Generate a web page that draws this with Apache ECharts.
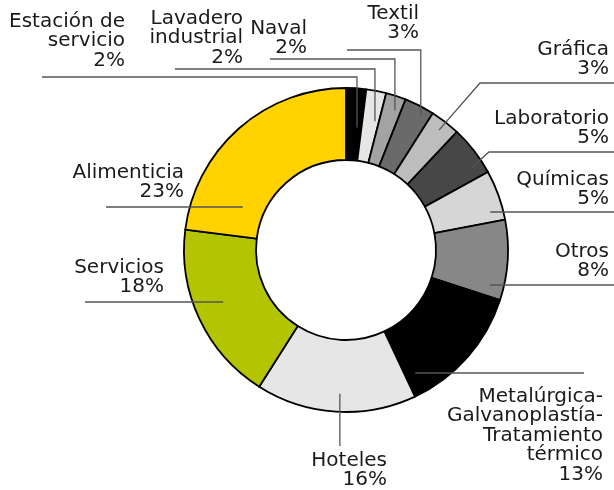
<!DOCTYPE html>
<html>
<head>
<meta charset="utf-8">
<script src="https://cdn.jsdelivr.net/npm/echarts@6/dist/echarts.min.js"></script>
<style>
  html, body { margin: 0; padding: 0; background: #ffffff; }
  #chart { width: 614px; height: 490px; }
</style>
</head>
<body>
<div id="chart"></div>
<script>
// Sectors, clockwise from 12 o'clock
const categories = [
  'Estación de servicio', 'Lavadero industrial', 'Naval', 'Textil', 'Gráfica',
  'Laboratorio', 'Químicas', 'Otros',
  'Metalúrgica-Galvanoplastía-Tratamiento térmico', 'Hoteles', 'Servicios', 'Alimenticia'
];
// Label text with its line breaks
const labelNames = [
  'Estación de\nservicio', 'Lavadero\nindustrial', 'Naval', 'Textil', 'Gráfica',
  'Laboratorio', 'Químicas', 'Otros',
  'Metalúrgica-\nGalvanoplastía-\nTratamiento\ntérmico', 'Hoteles', 'Servicios', 'Alimenticia'
];
// Share of each sector (%)
const shares = [2, 2, 2, 3, 3, 5, 5, 8, 13, 16, 18, 23];

const sliceColors = [
  '#000000', '#e6e6e6', '#a3a3a3', '#6a6a6a', '#bdbdbd', '#474747',
  '#d6d6d6', '#878787', '#000000', '#e6e6e6', '#b3c500', '#ffd200'
];

// Ring geometry (px)
const CX = 346, CY = 250, R_IN = 90, R_OUT = 162;

// Callout placement: anchor = [radius, position within sector 0..1],
// kind: 'v' vertical then horizontal, 'd' diagonal then horizontal, 'h' horizontal only
const callouts = [
  { anchor: [123, 0.71], kind: 'v', lineY: 77,  endX: 42,  tx: 125, ty: 12 },
  { anchor: [132, 0.76], kind: 'v', lineY: 69,  endX: 175, tx: 243, ty: 9 },
  { anchor: [148, 0.68], kind: 'v', lineY: 59,  endX: 270, tx: 307, ty: 19 },
  { anchor: [154, 0.69], kind: 'v', lineY: 50,  endX: 347, tx: 419, ty: 4 },
  { anchor: [152, 0.50], kind: 'd', lineY: 83,  bendX: 480, endX: 614, tx: 609, ty: 40 },
  { anchor: [150, 0.75], kind: 'd', lineY: 152, bendX: 489, endX: 614, tx: 609, ty: 109 },
  { anchor: [149, 0.78], kind: 'h', lineY: 212, endX: 614, tx: 609, ty: 170 },
  { anchor: [148, 0.85], kind: 'h', lineY: 285, endX: 614, tx: 609, ty: 242 },
  { anchor: [141, 0.91], kind: 'h', lineY: 373, endX: 584, tx: 603, ty: 387 },
  { anchor: [144, 0.48], kind: 'v', lineY: 446, endX: null, tx: 387, ty: 451 },
  { anchor: [133, 0.54], kind: 'h', lineY: 302, endX: 85,  tx: 164, ty: 258 },
  { anchor: [112, 0.19], kind: 'h', lineY: 207, endX: 106, tx: 184, ty: 163 }
];

const total = shares.reduce((a, b) => a + b, 0);
const cumBefore = shares.map((_, i) => shares.slice(0, i).reduce((a, b) => a + b, 0));

// Point inside sector i at the given radius and fractional position
function sectorPoint(i, r, frac) {
  const theta = (cumBefore[i] + frac * shares[i]) / total * 2 * Math.PI;
  return [CX + r * Math.sin(theta), CY - r * Math.cos(theta)];
}

const chart = echarts.init(document.getElementById('chart'), null, { renderer: 'canvas' });

const ring = {
  type: 'pie',
  center: [CX, CY],
  radius: [R_IN, R_OUT],
  startAngle: 90,
  clockwise: true,
  avoidLabelOverlap: false,
  silent: true
};

chart.setOption({
  backgroundColor: '#ffffff',
  animation: false,
  series: [
    // coloured ring
    Object.assign({}, ring, {
      z: 1,
      itemStyle: { borderColor: '#000000', borderWidth: 1.8 },
      label: { show: false },
      labelLine: { show: false },
      data: shares.map((v, i) => ({
        name: categories[i],
        value: v,
        itemStyle: { color: sliceColors[i] }
      }))
    }),
    // callouts drawn above the ring
    Object.assign({}, ring, {
      z: 5,
      itemStyle: { color: 'rgba(0,0,0,0)', borderWidth: 0 },
      label: {
        show: true,
        position: 'outside',
        color: '#1a1a1a',
        fontFamily: 'DejaVu Sans',
        fontSize: 20,
        lineHeight: 19.5,
        align: 'right',
        formatter: p => labelNames[p.dataIndex] + '\n' + p.value + '%'
      },
      labelLine: {
        show: true,
        smooth: false,
        lineStyle: { color: '#555555', width: 1.3 }
      },
      labelLayout: function (params) {
        const i = params.dataIndex;
        const c = callouts[i];
        const a = sectorPoint(i, c.anchor[0], c.anchor[1]);
        let pts;
        if (c.kind === 'v') {
          pts = [a, [a[0], c.lineY]];
          if (c.endX != null) pts.push([c.endX, c.lineY]);
        } else if (c.kind === 'd') {
          pts = [a, [c.bendX, c.lineY], [c.endX, c.lineY]];
        } else {
          pts = [[a[0], c.lineY], [c.endX, c.lineY]];
        }
        return {
          x: c.tx,
          y: c.ty,
          align: 'right',
          verticalAlign: 'top',
          labelLinePoints: pts
        };
      },
      data: shares.map((v, i) => ({ name: categories[i], value: v }))
    })
  ]
});
</script>
</body>
</html>
